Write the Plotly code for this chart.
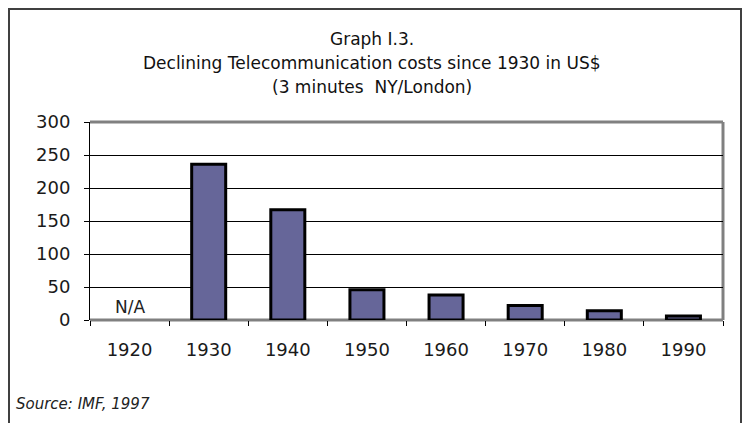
import plotly.graph_objects as go

years = ["1920", "1930", "1940", "1950", "1960", "1970", "1980", "1990"]
costs = [None, 236, 167, 46, 38, 22, 14, 6]
y_ticks = [0, 50, 100, 150, 200, 250, 300]
title_lines = ["Graph I.3.",
               "Declining Telecommunication costs since 1930 in US$",
               "(3 minutes  NY/London)"]
na_label = "N/A"
na_year = "1920"
source_text = "Source: IMF, 1997"

W, H = 744, 423
L, R, T, B = 90, 21, 122, 103
pw, ph = W - L - R, H - T - B

def px(x):
    return (x - L) / pw

def py(y):
    return (H - B - y) / ph

fig = go.Figure()
fig.add_trace(go.Bar(
    x=years, y=costs,
    marker=dict(color="#666699", line=dict(color="black", width=3)),
    width=0.43,
    hoverinfo="x+y",
))

fig.update_layout(
    width=W, height=H, autosize=False,
    margin=dict(l=L, r=R, t=T, b=B, pad=0),
    paper_bgcolor="white", plot_bgcolor="white",
    showlegend=False,
    font=dict(family="DejaVu Sans", color="#1a1a1a"),
)
fig.update_xaxes(
    type="category", tickson="boundaries",
    ticks="outside", ticklen=5, tickcolor="black", tickwidth=1,
    showline=False, showgrid=False, zeroline=False,
    tickfont=dict(family="DejaVu Sans", size=18, color="#1a1a1a"),
    ticklabelstandoff=17,
    range=[-0.5, 7.5],
)
fig.update_yaxes(
    range=[0, 300], tickvals=y_ticks,
    ticks="outside", ticklen=5, tickcolor="black", tickwidth=1,
    showline=True, linecolor="black", linewidth=1,
    showgrid=True, gridcolor="black", gridwidth=1,
    zeroline=False,
    tickfont=dict(family="DejaVu Sans", size=18, color="#1a1a1a"),
    ticklabelstandoff=10,
)

# plot-area frame (top, right, bottom) in grey
for (x0, y0, x1, y1) in [(0, 1, 1, 1), (1, 0, 1, 1), (0, 0, 1, 0)]:
    fig.add_shape(type="line", xref="paper", yref="paper",
                  x0=x0, y0=y0, x1=x1, y1=y1,
                  line=dict(color="#808080", width=3), layer="between")

# outer chart border
fig.add_shape(type="rect", xref="paper", yref="paper",
              x0=px(9), x1=px(741), y0=py(440), y1=py(9),
              line=dict(color="#404040", width=2), layer="below")

title_y = [39, 63, 87]
for txt, yy in zip(title_lines, title_y):
    fig.add_annotation(text=txt, xref="paper", yref="paper",
                       x=px(372), y=py(yy), xanchor="center", yanchor="middle",
                       showarrow=False,
                       font=dict(family="DejaVu Sans", size=17, color="#111111"))

fig.add_annotation(text=na_label, x=years.index(na_year), y=20, xref="x", yref="y",
                   showarrow=False, xanchor="center", yanchor="middle",
                   font=dict(family="DejaVu Sans", size=17, color="#222222"))

fig.add_annotation(text="<i>" + source_text + "</i>", xref="paper", yref="paper",
                   x=px(14), y=py(404), xanchor="left", yanchor="middle",
                   showarrow=False,
                   font=dict(family="DejaVu Sans", size=15, color="#222222"))

fig.write_html("out.html", config={"displayModeBar": False},
               post_script="document.body.style.margin='0';")
